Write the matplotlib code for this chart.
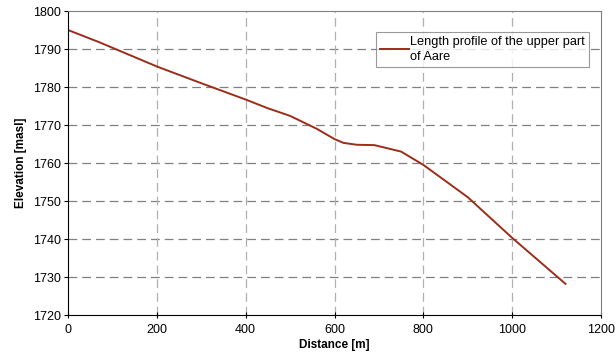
import matplotlib
matplotlib.use("Agg")
import matplotlib.pyplot as plt

distance = [0, 70, 200, 300, 400, 450, 500, 560, 600, 620, 650, 690, 750, 800, 900, 1000, 1120]
elevation = [1795, 1791.8, 1785.4, 1781.0, 1776.7, 1774.4, 1772.4, 1769.0, 1766.3, 1765.3, 1764.8, 1764.7, 1763.0, 1759.5, 1751.0, 1740.3, 1728.2]
series_label = "Length profile of the upper part\nof Aare"
xticks = [0, 200, 400, 600, 800, 1000, 1200]
yticks = [1720, 1730, 1740, 1750, 1760, 1770, 1780, 1790, 1800]

plt.rcParams['font.family'] = ['Liberation Sans', 'DejaVu Sans']

fig = plt.figure(figsize=(6.15, 3.62), dpi=100)
ax = fig.add_axes([68/615, 1-315/362, 533/615, 304/362])

ax.plot(distance, elevation, color='#9b2d1a', lw=1.4, label=series_label)
ax.set_xlim(0, 1200)
ax.set_ylim(1720, 1800)
ax.set_xticks(xticks)
ax.set_yticks(yticks)

for y in yticks[1:-1]:
    ax.axhline(y, color='#808080', lw=0.9, dashes=(7, 4), zorder=0)
for x in xticks[1:-1]:
    ax.axvline(x, color='#b0b0b0', lw=0.9, dashes=(7, 4), zorder=0)

ax.spines['left'].set_color('black')
ax.spines['bottom'].set_color('black')
ax.spines['right'].set_color('#808080')
ax.spines['top'].set_color('#808080')
ax.tick_params(axis='x', direction='inout', length=5, labelsize=9, pad=4)
ax.tick_params(axis='y', direction='out', length=3, labelsize=9, pad=2)

ax.set_xlabel('Distance [m]', fontsize=8.5, fontweight='bold', labelpad=2)
ax.set_ylabel('Elevation [masl]', fontsize=8.5, fontweight='bold', labelpad=4)

leg = ax.legend(loc='upper left', bbox_to_anchor=((376-68)/533, (315-32)/304),
                fontsize=9.2, frameon=True, fancybox=False, handlelength=2.3,
                handletextpad=0.1, borderpad=0.3, borderaxespad=0)
for t in leg.get_texts():
    t.set_linespacing(1.35)
leg.get_frame().set_edgecolor('#808080')
leg.get_frame().set_linewidth(0.8)

fig.savefig('out.png', dpi=100)
